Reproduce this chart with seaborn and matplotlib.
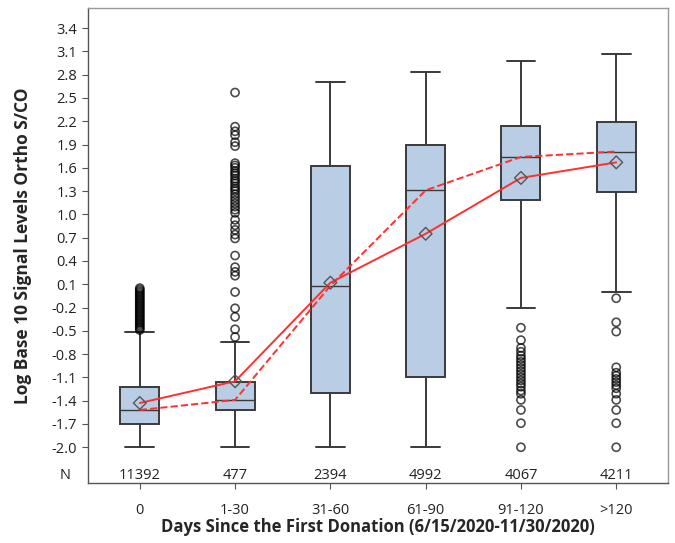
import pandas as pd
import matplotlib
matplotlib.use('Agg')
import matplotlib.pyplot as plt
import seaborn as sns

# Data
groups = ['0', '1-30', '31-60', '61-90', '91-120', '>120']
counts = [11392, 477, 2394, 4992, 4067, 4211]
whisker_low = [-2.0, -2.0, -2.0, -2.0, -0.21, 0.0]
q1 = [-1.70, -1.52, -1.30, -1.10, 1.18, 1.29]
medians = [-1.52, -1.39, 0.08, 1.31, 1.74, 1.81]
q3 = [-1.23, -1.16, 1.62, 1.90, 2.14, 2.19]
whisker_high = [-0.51, -0.64, 2.71, 2.83, 2.97, 3.06]
means = [-1.43, -1.15, 0.12, 0.75, 1.47, 1.67]

outliers = {
    '0': [-0.49, -0.47, -0.45, -0.43, -0.41, -0.39, -0.37, -0.35, -0.33, -0.31,
          -0.29, -0.27, -0.25, -0.23, -0.21, -0.19, -0.17, -0.15, -0.13, -0.11,
          -0.09, -0.07, -0.05, -0.03, -0.01, 0.01, 0.03, 0.05],
    '1-30': [2.57, 2.13, 2.07, 2.02, 1.93, 1.88, 1.66, 1.63, 1.60, 1.56, 1.53,
             1.50, 1.46, 1.43, 1.40, 1.36, 1.33, 1.30, 1.26, 1.22, 1.18, 1.14,
             1.10, 1.06, 1.02, 0.93, 0.86, 0.80, 0.74, 0.69, 0.47, 0.32, 0.26,
             0.21, 0.0, -0.21, -0.32, -0.48, -0.58],
    '31-60': [],
    '61-90': [],
    '91-120': [-0.46, -0.62, -0.72, -0.77, -0.82, -0.86, -0.90, -0.94, -0.98,
               -1.02, -1.06, -1.10, -1.14, -1.18, -1.22, -1.27, -1.31, -1.39,
               -1.52, -1.69, -2.0],
    '>120': [-0.08, -0.39, -0.51, -0.97, -1.04, -1.08, -1.12, -1.16, -1.20,
             -1.24, -1.31, -1.39, -1.52, -1.69, -2.0],
}
y_ticks = [-2.0, -1.7, -1.4, -1.1, -0.8, -0.5, -0.2, 0.1, 0.4, 0.7, 1.0,
           1.3, 1.6, 1.9, 2.2, 2.5, 2.8, 3.1, 3.4]

sns.set_style('white')
plt.rcParams['font.family'] = ['Open Sans', 'DejaVu Sans']

fig = plt.figure(figsize=(6.75, 5.43), dpi=100)
ax = fig.add_axes([0.130, 0.110, 0.860, 0.875])

# Boxes from the summary stats
stats = []
for i, g in enumerate(groups):
    stats.append({'whislo': whisker_low[i], 'q1': q1[i], 'med': medians[i],
                  'q3': q3[i], 'whishi': whisker_high[i], 'fliers': [], 'label': g})
ax.bxp(stats, positions=range(len(groups)), widths=0.41, patch_artist=True,
       showfliers=False,
       boxprops=dict(facecolor='#b9cde5', edgecolor='#3a3a3a', linewidth=1.4),
       medianprops=dict(color='#3a3a3a', linewidth=1.0),
       whiskerprops=dict(color='#3a3a3a', linewidth=1.4),
       capprops=dict(color='#3a3a3a', linewidth=1.4), capwidths=0.3)

# Outliers
rows = []
for i, g in enumerate(groups):
    for v in outliers[g]:
        rows.append({'x': i, 'y': v})
out_df = pd.DataFrame(rows)
sns.scatterplot(data=out_df, x='x', y='y', marker='o', s=34, facecolors='none',
                edgecolor='#000000', linewidth=1.2, alpha=0.7, ax=ax, zorder=3)

# Mean and median lines
summary = pd.DataFrame({'x': range(len(groups)), 'mean': means, 'median': medians})
sns.lineplot(data=summary, x='x', y='median', color='#ff3030', linewidth=1.4,
             linestyle='--', dashes=(4, 2.5), ax=ax, zorder=4)
sns.lineplot(data=summary, x='x', y='mean', color='#ff3030', linewidth=1.4,
             ax=ax, zorder=4)
sns.scatterplot(data=summary, x='x', y='mean', marker='D', s=42, facecolors='none',
                edgecolor='#555555', linewidth=1.0, ax=ax, zorder=5)

# N row
for i, n in enumerate(counts):
    ax.text(i, -2.36, str(n), ha='center', va='center', fontsize=10.5, color='#222222')
ax.text(-0.03, 0.0165, 'N', transform=ax.transAxes, ha='right', va='center',
        fontsize=10.5, color='#222222')

ax.set_xlim(-0.546, 5.546)
ax.set_ylim(-2.464, 3.657)
ax.set_yticks(y_ticks)
ax.set_yticklabels([f'{t:.1f}' for t in y_ticks])
ax.set_xticks(range(len(groups)))
ax.set_xticklabels(groups)
ax.tick_params(axis='both', direction='out', length=4, width=0.8, color='#555555',
               labelsize=10.5, labelcolor='#222222', left=True, bottom=True)
ax.tick_params(axis='x', pad=10)
for s in ax.spines.values():
    s.set_color('#999999')
    s.set_linewidth(1.0)
ax.spines['left'].set_color('#555555')
ax.spines['bottom'].set_color('#555555')

ax.set_xlabel('Days Since the First Donation (6/15/2020-11/30/2020)',
              fontsize=12, fontweight='bold', labelpad=0)
ax.set_ylabel('Log Base 10 Signal Levels Ortho S/CO', fontsize=12.5,
              fontweight='bold', labelpad=14)

fig.savefig('out.png', dpi=100)
